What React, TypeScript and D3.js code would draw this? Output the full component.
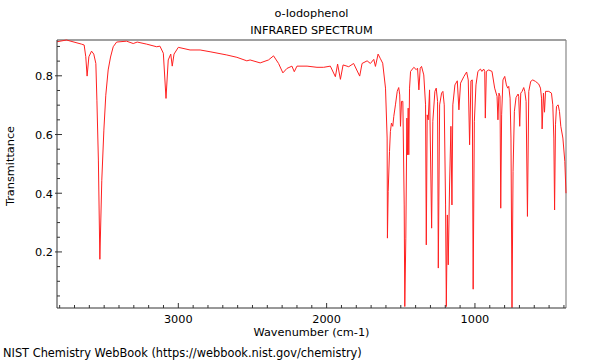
import React, { useRef, useEffect } from 'react';
import * as d3 from 'd3';

// [wavenumber (cm-1), transmittance]
const highRegion: [number, number][] = [
  [3818, 0.916], [3754, 0.922], [3653, 0.908], [3635, 0.905], [3624, 0.865], [3615, 0.799],
  [3603, 0.865], [3585, 0.884], [3570, 0.874], [3556, 0.842], [3549, 0.717], [3539, 0.513],
  [3529, 0.175], [3516, 0.444], [3502, 0.615], [3489, 0.734], [3473, 0.820], [3457, 0.864],
  [3439, 0.899], [3416, 0.915], [3349, 0.918], [3304, 0.910], [3277, 0.915], [3214, 0.908],
  [3146, 0.899], [3124, 0.901], [3101, 0.877], [3083, 0.723], [3068, 0.854], [3051, 0.874],
  [3041, 0.833], [3029, 0.874], [3000, 0.897], [2921, 0.888], [2853, 0.888], [2786, 0.882],
  [2673, 0.871], [2605, 0.863], [2538, 0.851], [2516, 0.854], [2448, 0.844], [2392, 0.854],
  [2358, 0.868], [2324, 0.842], [2295, 0.810], [2268, 0.825], [2234, 0.833], [2218, 0.814],
  [2200, 0.833], [2132, 0.833], [2065, 0.829], [2020, 0.829],
];

const midRegion: [number, number][] = [
  [1975, 0.833], [1941, 0.797], [1926, 0.840], [1907, 0.788], [1889, 0.837], [1851, 0.831],
  [1818, 0.842], [1777, 0.799], [1761, 0.842], [1727, 0.851], [1705, 0.842], [1682, 0.856],
  [1671, 0.832], [1653, 0.874], [1637, 0.858], [1622, 0.843], [1603, 0.758], [1592, 0.588],
  [1590, 0.247], [1585, 0.406], [1576, 0.542], [1570, 0.610], [1563, 0.639], [1554, 0.628],
  [1547, 0.662], [1536, 0.701], [1524, 0.747], [1514, 0.760], [1507, 0.735], [1502, 0.628],
  [1495, 0.713], [1486, 0.713], [1477, 0.360], [1473, 0.014], [1466, 0.247], [1459, 0.656],
  [1455, 0.531], [1450, 0.690], [1446, 0.531], [1441, 0.758], [1434, 0.815], [1412, 0.829],
];

const fingerprint: [number, number][] = [
  [1396, 0.821], [1387, 0.826], [1378, 0.752], [1369, 0.826], [1360, 0.832], [1345, 0.803],
  [1333, 0.701], [1328, 0.224], [1322, 0.667], [1315, 0.650], [1306, 0.752], [1292, 0.281],
  [1284, 0.645], [1270, 0.747], [1261, 0.758], [1252, 0.713], [1247, 0.145], [1238, 0.701],
  [1225, 0.741], [1216, 0.747], [1207, 0.701], [1198, 0.360], [1193, 0.014], [1186, 0.326],
  [1180, 0.156], [1171, 0.428], [1162, 0.628], [1155, 0.360], [1149, 0.701], [1135, 0.769],
  [1119, 0.783], [1108, 0.684], [1097, 0.775], [1074, 0.798], [1056, 0.813], [1045, 0.786],
  [1036, 0.565], [1027, 0.783], [1018, 0.786], [1012, 0.073], [1004, 0.645], [993, 0.769],
  [980, 0.815], [963, 0.823], [953, 0.815], [941, 0.823], [934, 0.815], [930, 0.656],
  [923, 0.815], [907, 0.820], [885, 0.815], [867, 0.758], [851, 0.730], [845, 0.650],
  [838, 0.741], [831, 0.730], [826, 0.349], [820, 0.667], [811, 0.786], [799, 0.798],
  [788, 0.769], [779, 0.758], [772, 0.764], [763, 0.724], [757, 0.588], [750, 0.010],
  [743, 0.474], [734, 0.679], [723, 0.726], [709, 0.738], [705, 0.730], [698, 0.628],
  [691, 0.741], [682, 0.747], [671, 0.760], [664, 0.747], [655, 0.713], [646, 0.321],
  [637, 0.747], [624, 0.781], [610, 0.786], [592, 0.781], [570, 0.772], [558, 0.758],
  [551, 0.724], [547, 0.619], [538, 0.741], [531, 0.676], [524, 0.747], [502, 0.747],
  [484, 0.741], [475, 0.701], [468, 0.588], [463, 0.343], [457, 0.633], [450, 0.696],
  [439, 0.701], [430, 0.679], [421, 0.628], [407, 0.588], [394, 0.508], [386, 0.400],
];

const xDomain: [number, number] = [3818, 386];
const yDomain: [number, number] = [0.009, 0.922];
const xMajorTicks = [3000, 2000, 1000];
const yMajorTicks = [0.2, 0.4, 0.6, 0.8];

const App: React.FC = () => {
  const ref = useRef<SVGSVGElement | null>(null);

  useEffect(() => {
    const width = 600;
    const height = 360;
    const margin = { top: 40, right: 34, bottom: 52, left: 57 };
    const w = width - margin.left - margin.right;
    const h = height - margin.top - margin.bottom;
    const font = 'DejaVu Sans, sans-serif';
    const fs = '11.3px';

    const svg = d3.select(ref.current);
    svg.selectAll('*').remove();

    const x = d3.scaleLinear().domain(xDomain).range([0, w]);
    const y = d3.scaleLinear().domain(yDomain).range([h, 0]);

    const g = svg.append('g').attr('transform', `translate(${margin.left},${margin.top})`);

    // frame: grey top/right, dark left/bottom
    g.append('line').attr('x1', 0).attr('x2', w).attr('y1', 0).attr('y2', 0)
      .attr('stroke', '#a0a0a0').attr('stroke-width', 2);
    g.append('line').attr('x1', w).attr('x2', w).attr('y1', 0).attr('y2', h)
      .attr('stroke', '#888').attr('stroke-width', 1.2);

    const data = [...highRegion, ...midRegion, ...fingerprint];
    const line = d3.line<[number, number]>()
      .x(d => x(d[0]))
      .y(d => y(Math.max(yDomain[0], d[1])))
      .curve(d3.curveLinear);

    g.append('path')
      .datum(data)
      .attr('fill', 'none')
      .attr('stroke', '#ff2020')
      .attr('stroke-width', 1)
      .attr('d', line);

    // x axis with inward ticks
    const xMinor = d3.range(3800, 399, -100).filter(v => !xMajorTicks.includes(v));
    const xAxisG = g.append('g').attr('transform', `translate(0,${h})`);
    xAxisG.append('line').attr('x1', 0).attr('x2', w).attr('stroke', '#333');
    xAxisG.selectAll('.minor').data(xMinor).enter().append('line')
      .attr('x1', d => x(d)).attr('x2', d => x(d)).attr('y1', 0).attr('y2', -3)
      .attr('stroke', '#333');
    xAxisG.selectAll('.major').data(xMajorTicks).enter().append('line')
      .attr('x1', d => x(d)).attr('x2', d => x(d)).attr('y1', 0).attr('y2', -5)
      .attr('stroke', '#333');
    xAxisG.selectAll('.lbl').data(xMajorTicks).enter().append('text')
      .attr('x', d => x(d)).attr('y', 15)
      .attr('text-anchor', 'middle')
      .attr('font-family', font).attr('font-size', fs)
      .text(d => d3.format('d')(d));
    xAxisG.append('text')
      .attr('x', w / 2).attr('y', 28)
      .attr('text-anchor', 'middle')
      .attr('font-family', font).attr('font-size', fs)
      .text('Wavenumber (cm-1)');

    // y axis
    const yMinor = d3.range(0.05, 0.92, 0.05).filter(v => !yMajorTicks.some(m => Math.abs(m - v) < 1e-6));
    const yAxisG = g.append('g');
    yAxisG.append('line').attr('y1', 0).attr('y2', h).attr('stroke', '#333');
    yAxisG.selectAll('.minor').data(yMinor).enter().append('line')
      .attr('y1', d => y(d)).attr('y2', d => y(d)).attr('x1', 0).attr('x2', 3)
      .attr('stroke', '#333');
    yAxisG.selectAll('.major').data(yMajorTicks).enter().append('line')
      .attr('y1', d => y(d)).attr('y2', d => y(d)).attr('x1', -2).attr('x2', 5)
      .attr('stroke', '#333');
    yAxisG.selectAll('.lbl').data(yMajorTicks).enter().append('text')
      .attr('x', -4).attr('y', d => y(d) + 4.5)
      .attr('text-anchor', 'end')
      .attr('font-family', font).attr('font-size', fs)
      .text(d => d3.format('.1f')(d));
    svg.append('text')
      .attr('transform', `translate(14,166) rotate(-90)`)
      .attr('text-anchor', 'middle')
      .attr('font-family', font).attr('font-size', fs)
      .text('Transmittance');

    // titles
    svg.append('text')
      .attr('x', margin.left + w / 2).attr('y', 17)
      .attr('text-anchor', 'middle')
      .attr('font-family', font).attr('font-size', fs)
      .text('o-Iodophenol');
    svg.append('text')
      .attr('x', margin.left + w / 2).attr('y', 34)
      .attr('text-anchor', 'middle')
      .attr('font-family', font).attr('font-size', fs)
      .text('INFRARED SPECTRUM');

    svg.append('text')
      .attr('x', 3).attr('y', 357)
      .attr('font-family', font).attr('font-size', '11.4px')
      .text('NIST Chemistry WebBook (https://webbook.nist.gov/chemistry)');
  }, []);

  return (
    <svg
      ref={ref}
      width={600}
      height={360}
      style={{ position: 'absolute', left: 0, top: 0, background: '#fff' }}
    />
  );
};

export default App;
